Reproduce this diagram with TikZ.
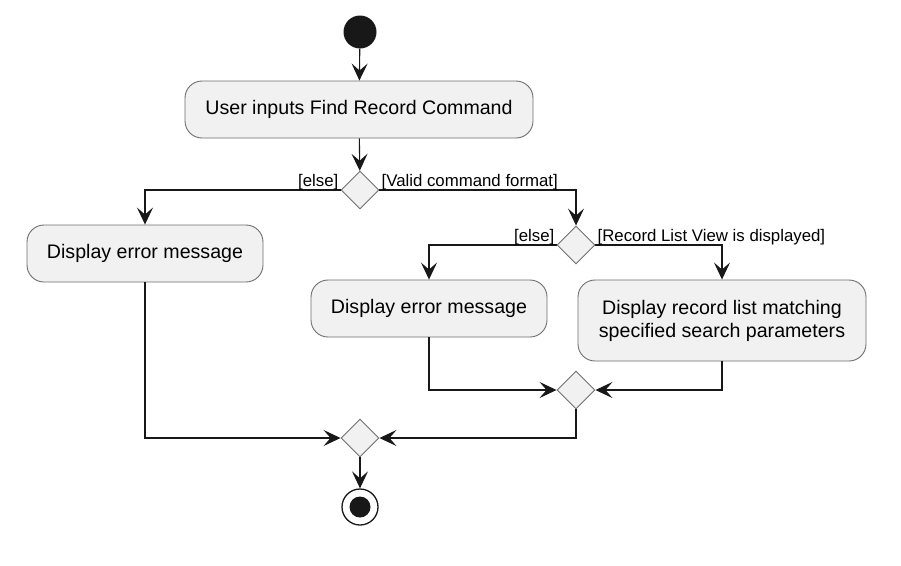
\documentclass[tikz,border=0pt]{standalone}
\usepackage{fontspec}
\setmainfont{Liberation Sans}
\usetikzlibrary{arrows.meta,shapes.geometric}
\definecolor{boxfill}{HTML}{F1F1F1}
\definecolor{boxline}{HTML}{6E6E6E}
\definecolor{ink}{HTML}{181818}
\tikzset{
  act/.style={draw=boxline, line width=0.9pt, fill=boxfill, rounded corners=17pt,
    inner sep=0pt, align=center, text=black, font=\fontsize{19.6}{23}\selectfont},
  dec/.style={draw=boxline, line width=0.9pt, fill=boxfill, shape=diamond,
    minimum width=38pt, minimum height=38pt, inner sep=0pt},
  flow/.style={draw=ink, line width=1.1pt, -{Stealth[length=17pt,width=16pt,inset=7pt]}},
  guard/.style={font=\fontsize{16.8}{19}\selectfont, text=black, inner sep=1pt}
}
\begin{document}
\begin{tikzpicture}[x=1pt,y=-1pt]
\useasboundingbox (0,0) rectangle (901,565);
% start
\node[circle, fill=ink, draw=none, minimum size=33pt, inner sep=0pt] (start) at (360,32) {};
% actions
\node[act, minimum width=348pt, minimum height=57pt] (a1) at (359,109.5) {User inputs Find Record Command};
\node[act, minimum width=236pt, minimum height=57pt] (a2) at (145,253.5) {Display error message};
\node[act, minimum width=236pt, minimum height=57pt] (a3) at (429,308.5) {Display error message};
\node[act, minimum width=288pt, minimum height=81pt] (a4) at (722,320.5) {Display record list matching\\specified search parameters};
% decisions
\node[dec] (d1) at (360,190) {};
\node[dec] (d2) at (576,245) {};
\node[dec] (d3) at (576,390) {};
\node[dec] (d4) at (360,438) {};
% end
\node[circle, draw=ink, line width=1.3pt, fill=white, minimum size=36pt, inner sep=0pt] (stop) at (360,507) {};
\node[circle, fill=ink, minimum size=21pt, inner sep=0pt] (stopdot) at (stop.center) {};
% flows
\draw[flow] (start) -- (a1);
\draw[flow] (a1) -- (d1);
\draw[flow] (d1.west) -| (a2.north);
\draw[flow] (d1.east) -| (d2.north);
\draw[flow] (d2.west) -| (a3.north);
\draw[flow] (d2.east) -| (a4.north);
\draw[flow] (a3.south) |- (d3.west);
\draw[flow] (a4.south) |- (d3.east);
\draw[flow] (d3.south) |- (d4.east);
\draw[flow] (a2.south) |- (d4.west);
\draw[flow] (d4) -- (stop);
% guards
\node[guard, anchor=south east] (g1) at ([xshift=-1pt,yshift=-1pt]d1.west) {[else]};
\node[guard, anchor=south west] (g2) at ([xshift=1pt,yshift=-1pt]d1.east) {[Valid command format]};
\node[guard, anchor=south east] (g3) at ([xshift=-1pt,yshift=-1pt]d2.west) {[else]};
\node[guard, anchor=south west] (g4) at ([xshift=1pt,yshift=-1pt]d2.east) {[Record List View is displayed]};
\end{tikzpicture}
\end{document}
